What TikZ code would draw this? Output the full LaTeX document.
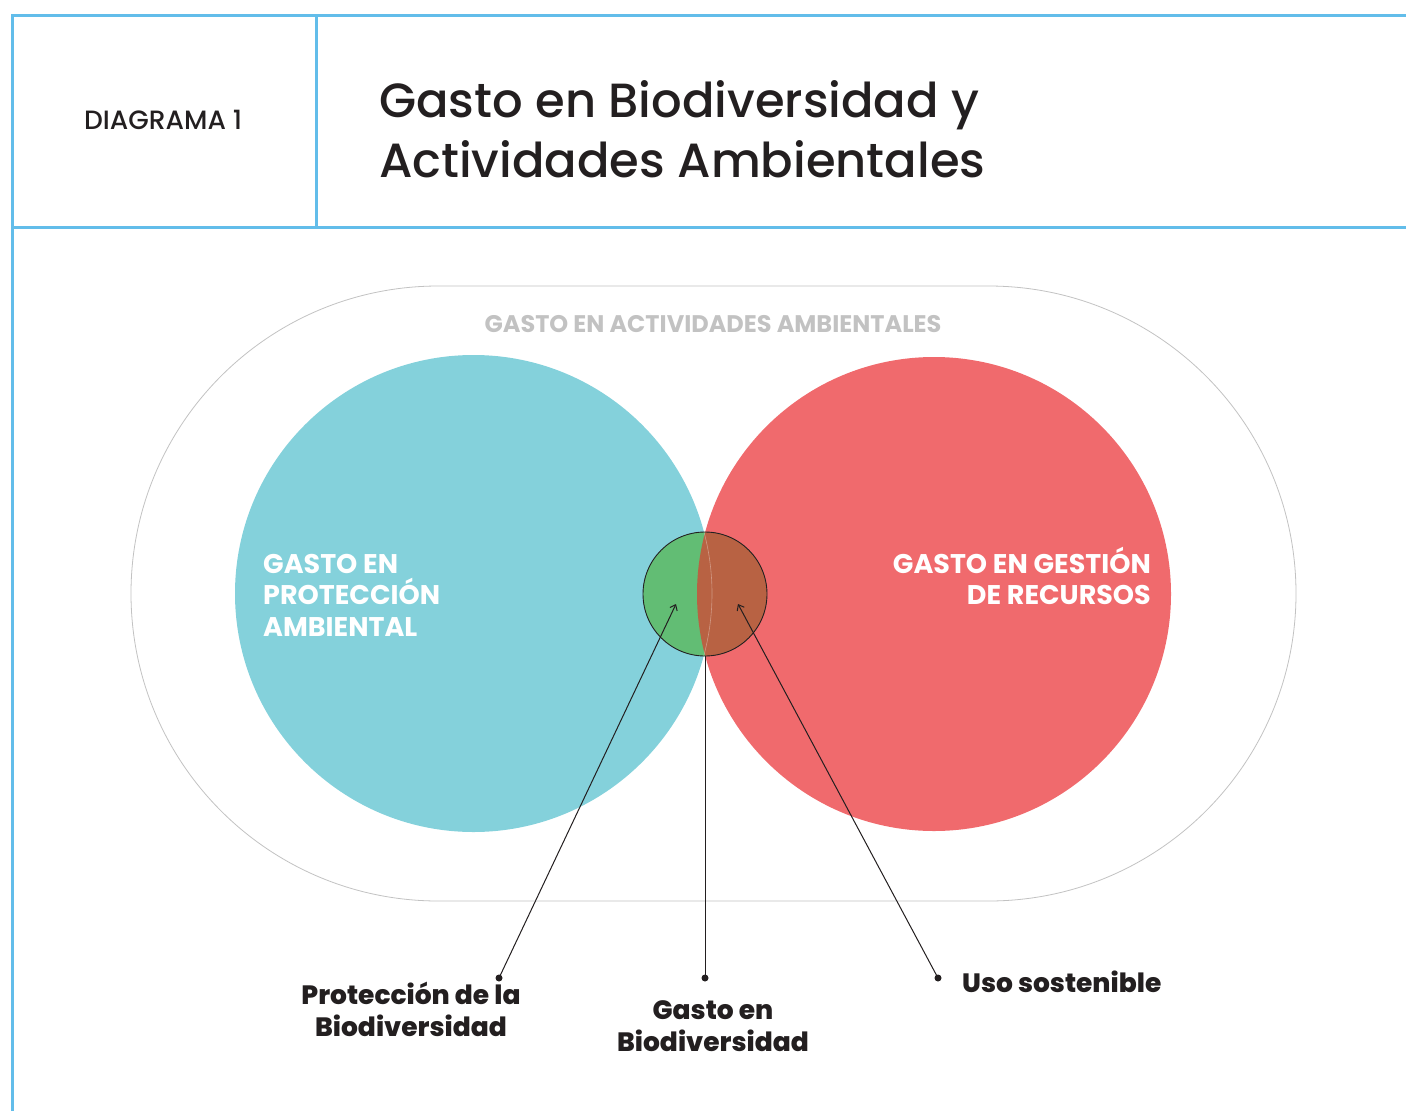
\documentclass[tikz,border=0pt]{standalone}
\usepackage{fontspec}
\setmainfont{Poppins}[BoldFont={Poppins ExtraBold}]
\newfontfamily\psemi{Poppins Bold}
\newfontfamily\pmed{Poppins Medium}
\usetikzlibrary{arrows.meta}
\definecolor{frameblue}{HTML}{62BDEA}
\definecolor{pblue}{HTML}{84D1DB}
\definecolor{pred}{HTML}{F06A6D}
\definecolor{pgreen}{HTML}{62BD74}
\definecolor{pbrown}{HTML}{B86243}
\definecolor{pgray}{HTML}{C2C2C2}
\definecolor{ink}{HTML}{231F20}
\tikzset{
  frame/.style={draw=frameblue, line width=3pt},
  conn/.style={draw=ink, line width=1pt},
  dotnode/.style={circle, fill=ink, inner sep=0pt, minimum size=7pt},
  label/.style={font=\bfseries\fontsize{26.5}{32}\selectfont, text=ink, align=center, inner sep=0pt},
  inlabel/.style={font=\psemi\fontsize{27}{31.5}\selectfont, text=white, inner sep=0pt},
}
\begin{document}
\begin{tikzpicture}[x=1pt,y=-1pt]
\useasboundingbox (0,0) rectangle (1406,1111);
% frame
\draw[frame] (1406,15) -- (12,15) -- (12,1111);
\draw[frame] (12,227) -- (1406,227);
\draw[frame] (316,15) -- (316,227);
\node[font=\pmed\fontsize{26.5}{30}\selectfont, text=ink, anchor=west, inner sep=0pt] (diag) at (84,120) {DIAGRAMA 1};
\node[font=\pmed\fontsize{48}{60}\selectfont, text=ink, anchor=west, align=left, inner sep=0pt] (title) at (379,129) {Gasto en Biodiversidad y\\Actividades Ambientales};
% stadium
\node[draw=pgray, line width=0.8pt, rounded corners=307.5pt, minimum width=1165pt, minimum height=615pt, inner sep=0pt] (act) at (713.5,593.5) {};
\node[font=\psemi\fontsize{24}{26}\selectfont, text=pgray, inner sep=0pt] (actlab) at (713,324) {GASTO EN ACTIVIDADES AMBIENTALES};
% circles
\fill[pblue] (473.5,593.5) circle (238.5);
\fill[pred] (934,594) circle (237);
\fill[pgreen] (705,594) circle (62);
\begin{scope}
  \clip (705,594) circle (62);
  \fill[pbrown] (934,594) circle (237);
  \draw[white, opacity=0.35, line width=0.6pt] (473.5,593.5) circle (238.5);
\end{scope}
\node[draw=ink, circle, line width=0.9pt, minimum size=124pt, inner sep=0pt] (bio) at (705,594) {};
\node[circle, minimum size=477pt] (prot) at (473.5,593.5) {};
\node[circle, minimum size=474pt] (gest) at (934,594) {};
\node[inlabel, anchor=west, align=left] (protlab) at (263,595) {GASTO EN\\PROTECCIÓN\\AMBIENTAL};
\node[inlabel, anchor=east, align=right] (gestlab) at (1151,576) {GASTO EN GESTIÓN\\DE RECURSOS};
% connectors
\coordinate (tipL) at (676,604);
\coordinate (tipR) at (738,604);
\node[dotnode] (dL) at (499,978) {};
\node[dotnode] (dM) at (705,978) {};
\node[dotnode] (dR) at (938,978) {};
\draw[conn, -{Straight Barb[length=5pt,width=8pt]}] (dL.center) -- (tipL);
\draw[conn, -{Straight Barb[length=5pt,width=8pt]}] (dR.center) -- (tipR);
\draw[conn] (dM.center) -- (bio.south);
% labels
\node[label] (lprot) at (411,1009) {Protección de la\\Biodiversidad};
\node[label] (lgasto) at (713,1026) {Gasto en\\Biodiversidad};
\node[label, anchor=west] (luso) at (962,982) {Uso sostenible};
\end{tikzpicture}
\end{document}
